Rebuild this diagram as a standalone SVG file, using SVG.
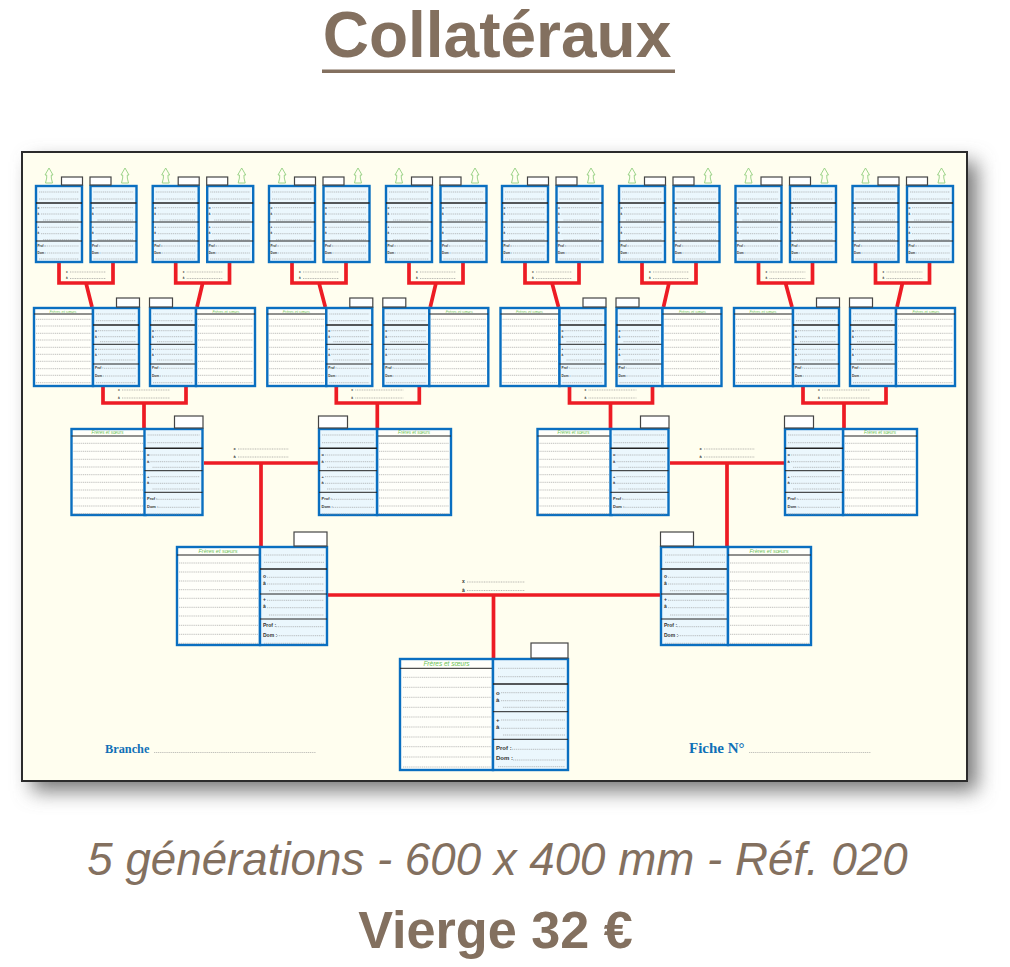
<svg xmlns="http://www.w3.org/2000/svg" width="1010" height="967" viewBox="0 0 1010 967">
<style>
.tt{font-family:"Liberation Sans",Arial,sans-serif;fill:#83705f}
.box{stroke:#0a6fc0;stroke-width:2.4}
.pf{fill:#ebf7fd}.sf{fill:#fffffa}
.d{fill:none;stroke:#999;stroke-width:.6;stroke-dasharray:1.2 .7}
.h{fill:none;stroke:#222;stroke-width:1}
.hb{fill:none;stroke:#222;stroke-width:1.6}
.tab{fill:#fff;stroke:#444;stroke-width:1.2}
.arr{fill:none;stroke:#93cf80;stroke-width:.9}
.red{fill:none;stroke:#ed1c24;stroke-width:3.7}
.l{font-family:"Liberation Sans",Arial,sans-serif;font-weight:bold;fill:#333}
.l5{font-size:3px}.l4{font-size:3.2px}.l3{font-size:4px}.l2{font-size:5px}.l1{font-size:6px}
.fs{font-family:"Liberation Sans",Arial,sans-serif;font-style:italic;fill:#6cbf55;text-anchor:middle}
.bl{font-family:"Liberation Serif",serif;font-weight:bold;fill:#0f70b7}
.cd{fill:none;stroke:#888;stroke-width:.6;stroke-dasharray:1 .7}
</style>
<defs>
<filter id="sh" x="-10%" y="-10%" width="120%" height="120%"><feGaussianBlur stdDeviation="10"/></filter>
<path id="arrow" class="arr" d="M0 -17L4 -10H2.300L2.300 -7L3.500 -2H-3.500L-2.300 -7V-10H-4Z"/>
<g id="p5"><rect class="box pf" x="1" y="1" width="46" height="76"/><path class="d" d="M4 7H44M4 14H44M6 22.700H44M6 29H44M8 35H44M6 42.300H44M6 48.700H44M8 54.700H44M10 61H44M12 68H44M4 74H44"/><path class="hb" d="M1 18H47"/><path class="h" d="M1 37H47M1 56H47"/></g>
<g id="p4"><rect class="box pf" x="1" y="1" width="46" height="78"/><path class="d" d="M4 7H44M4 13.700H44M6 23.700H44M6 29.700H44M8 34.700H44M6 42.300H44M6 47.300H44M8 53H44M12 61.300H44M13 69H44M4 75.700H44"/><path class="hb" d="M1 18H47"/><path class="h" d="M1 37.300H47M1 57H47"/></g>
<g id="s4"><rect class="box sf" x="1" y="1" width="59" height="78"/><path class="d" d="M3 12.300H58M3 19H58M3 26.300H58M3 33H58M3 40.300H58M3 47.300H58M3 54.300H58M3 61.700H58M3 68.300H58M3 75.700H58"/><path class="h" d="M1 7H60"/></g>
<g id="p3"><rect class="box pf" x="1" y="1" width="58" height="86"/><path class="d" d="M4 7H56M4 14.700H56M7 27H56M7 33.700H56M9 39.300H56M7 48.700H56M7 55.300H56M9 61H56M14 71.300H56M15 79.300H56M4 86H56"/><path class="hb" d="M1 20.300H59"/><path class="h" d="M1 42.700H59M1 64.300H59"/></g>
<g id="s3"><rect class="box sf" x="1" y="1" width="74" height="86"/><path class="d" d="M3 15.300H73M3 23.300H73M3 31.300H73M3 39H73M3 46.700H73M3 54.300H73M3 62H73M3 70H73M3 78H73M3 85.700H73"/><path class="h" d="M1 8H75"/></g>
<g id="p2"><rect class="box pf" x="1" y="1" width="67" height="98"/><path class="d" d="M5 9H65M5 16.300H65M8 31.300H65M8 38H65M10 44.700H65M8 54.300H65M8 61.700H65M10 69H65M17 80.700H65M18 89.700H65M5 97.300H65"/><path class="hb" d="M1 23H68"/><path class="h" d="M1 48H68M1 73H68"/></g>
<g id="s2"><rect class="box sf" x="1" y="1" width="83" height="98"/><path class="d" d="M3 17H82M3 26H82M3 35H82M3 43.700H82M3 52.300H82M3 61.300H82M3 70H82M3 79.300H82M3 88.300H82M3 97.300H82"/><path class="h" d="M1 9H84"/></g>
<g id="p1"><rect class="box pf" x="1" y="1" width="75" height="111"/><path class="d" d="M6 10.300H73M6 18.700H73M9 34.700H73M9 42.700H73M11 49.300H73M9 62H73M9 70.300H73M11 77H73M20 91.300H73M21 102H73M6 108.700H73"/><path class="hb" d="M1 26H76"/><path class="h" d="M1 53.700H76M1 81.300H76"/></g>
<g id="s1"><rect class="box sf" x="1" y="1" width="93" height="111"/><path class="d" d="M4 19.300H92M4 29.300H92M4 39.300H92M4 49.300H92M4 59H92M4 69H92M4 79H92M4 88.700H92M4 99H92M4 109H92"/><path class="h" d="M1 10.300H94"/></g>
</defs>
<rect width="1010" height="967" fill="#fff"/>
<text class="tt" x="497" y="57" font-size="64" font-weight="bold" text-anchor="middle">Collatéraux</text>
<rect x="322" y="69.500" width="353" height="3.500" fill="#83705f"/>
<rect x="32" y="162" width="945" height="629" fill="#777" filter="url(#sh)"/>
<rect x="22" y="152" width="945" height="629" fill="#fffeef" stroke="#2b2b2b" stroke-width="2"/>

<g id="connectors">
<path class="red" d="M59 263V283H113V263M86 283L92 307M175.700 263V283H229.500V263M202.700 283L197 307"/>
<path class="red" d="M292 263V283H346V263M319 283L325.300 307M409 263V283H463V263M436 283L430.300 307"/>
<path class="red" d="M525 263V283H579V263M552 283L558.500 307M642 263V283H696V263M669 283L663.500 307"/>
<path class="red" d="M758.500 263V283H812.500V263M785.500 283L792 307M875.500 263V283H929.500V263M902.500 283L897 307"/>
<path class="red" d="M103 387V403H186V387M144 403V428M336.300 387V403H419.300V387M377.300 403V428M569.500 387V403H652.500V387M610.500 403V428M803 387V403H886V387M844 403V428"/>
<path class="red" d="M204 463H318M261 463V546M670 463H785M727 463V546M328 595H660M493.500 595V658"/>
<path class="cd" d="M70 272H106M70 278.500H106M186.700 272H222.700M186.700 278.500H222.700M303 272H339M303 278.500H339M420 272H456M420 278.500H456M536 272H572M536 278.500H572M653 272H689M653 278.500H689M769.500 272H805.500M769.500 278.500H805.500M886.500 272H922.500M886.500 278.500H922.500"/>
<path class="cd" d="M122 390H170M122 398H170M355.300 390H403.300M355.300 398H403.300M588.500 390H636.500M588.500 398H636.500M822 390H870M822 398H870"/>
<path class="cd" d="M238 449H289M238 457H289M704 449H755M704 457H755M467 582H525M467 590.500H525"/>
<path class="d" d="M154 752.500H316M749 752.500H871"/>
<g class="l l5"><text x="66" y="272.500">x</text><text x="66" y="279">à</text><text x="182.700" y="272.500">x</text><text x="182.700" y="279">à</text><text x="299" y="272.500">x</text><text x="299" y="279">à</text><text x="416" y="272.500">x</text><text x="416" y="279">à</text><text x="532" y="272.500">x</text><text x="532" y="279">à</text><text x="649" y="272.500">x</text><text x="649" y="279">à</text><text x="765.500" y="272.500">x</text><text x="765.500" y="279">à</text><text x="882.500" y="272.500">x</text><text x="882.500" y="279">à</text></g>
<g class="l l4"><text x="118" y="391">x</text><text x="118" y="399">à</text><text x="351.300" y="391">x</text><text x="351.300" y="399">à</text><text x="584.500" y="391">x</text><text x="584.500" y="399">à</text><text x="818" y="391">x</text><text x="818" y="399">à</text></g>
<g class="l l3"><text x="233.500" y="450">x</text><text x="233.500" y="458">à</text><text x="699.500" y="450">x</text><text x="699.500" y="458">à</text></g>
<g class="l l2"><text x="462" y="583">x</text><text x="462" y="591.500">à</text></g>
</g>

<g id="g5-1" transform="translate(35 185)"><use href="#p5"/><rect class="tab" x="26.500" y="-8" width="21" height="8"/><use href="#arrow" x="14"/><g class="l l5"><text x="2.500" y="24">o</text><text x="2.500" y="30">à</text><text x="2.500" y="43">+</text><text x="2.500" y="49">à</text><text x="2.500" y="62">Prof :</text><text x="2.500" y="69">Dom :</text></g></g>
<g id="g5-2" transform="translate(89.500 185)"><use href="#p5"/><rect class="tab" x=".5" y="-8" width="21" height="8"/><use href="#arrow" x="35.500"/><g class="l l5"><text x="2.500" y="24">o</text><text x="2.500" y="30">à</text><text x="2.500" y="43">+</text><text x="2.500" y="49">à</text><text x="2.500" y="62">Prof :</text><text x="2.500" y="69">Dom :</text></g></g>
<g id="g5-3" transform="translate(151.700 185)"><use href="#p5"/><rect class="tab" x="26.500" y="-8" width="21" height="8"/><use href="#arrow" x="14"/><g class="l l5"><text x="2.500" y="24">o</text><text x="2.500" y="30">à</text><text x="2.500" y="43">+</text><text x="2.500" y="49">à</text><text x="2.500" y="62">Prof :</text><text x="2.500" y="69">Dom :</text></g></g>
<g id="g5-4" transform="translate(206.200 185)"><use href="#p5"/><rect class="tab" x=".5" y="-8" width="21" height="8"/><use href="#arrow" x="35.500"/><g class="l l5"><text x="2.500" y="24">o</text><text x="2.500" y="30">à</text><text x="2.500" y="43">+</text><text x="2.500" y="49">à</text><text x="2.500" y="62">Prof :</text><text x="2.500" y="69">Dom :</text></g></g>
<g id="g5-5" transform="translate(268 185)"><use href="#p5"/><rect class="tab" x="26.500" y="-8" width="21" height="8"/><use href="#arrow" x="14"/><g class="l l5"><text x="2.500" y="24">o</text><text x="2.500" y="30">à</text><text x="2.500" y="43">+</text><text x="2.500" y="49">à</text><text x="2.500" y="62">Prof :</text><text x="2.500" y="69">Dom :</text></g></g>
<g id="g5-6" transform="translate(322.500 185)"><use href="#p5"/><rect class="tab" x=".5" y="-8" width="21" height="8"/><use href="#arrow" x="35.500"/><g class="l l5"><text x="2.500" y="24">o</text><text x="2.500" y="30">à</text><text x="2.500" y="43">+</text><text x="2.500" y="49">à</text><text x="2.500" y="62">Prof :</text><text x="2.500" y="69">Dom :</text></g></g>
<g id="g5-7" transform="translate(385 185)"><use href="#p5"/><rect class="tab" x="26.500" y="-8" width="21" height="8"/><use href="#arrow" x="14"/><g class="l l5"><text x="2.500" y="24">o</text><text x="2.500" y="30">à</text><text x="2.500" y="43">+</text><text x="2.500" y="49">à</text><text x="2.500" y="62">Prof :</text><text x="2.500" y="69">Dom :</text></g></g>
<g id="g5-8" transform="translate(439.500 185)"><use href="#p5"/><rect class="tab" x=".5" y="-8" width="21" height="8"/><use href="#arrow" x="35.500"/><g class="l l5"><text x="2.500" y="24">o</text><text x="2.500" y="30">à</text><text x="2.500" y="43">+</text><text x="2.500" y="49">à</text><text x="2.500" y="62">Prof :</text><text x="2.500" y="69">Dom :</text></g></g>
<g id="g5-9" transform="translate(501 185)"><use href="#p5"/><rect class="tab" x="26.500" y="-8" width="21" height="8"/><use href="#arrow" x="14"/><g class="l l5"><text x="2.500" y="24">o</text><text x="2.500" y="30">à</text><text x="2.500" y="43">+</text><text x="2.500" y="49">à</text><text x="2.500" y="62">Prof :</text><text x="2.500" y="69">Dom :</text></g></g>
<g id="g5-10" transform="translate(555.500 185)"><use href="#p5"/><rect class="tab" x=".5" y="-8" width="21" height="8"/><use href="#arrow" x="35.500"/><g class="l l5"><text x="2.500" y="24">o</text><text x="2.500" y="30">à</text><text x="2.500" y="43">+</text><text x="2.500" y="49">à</text><text x="2.500" y="62">Prof :</text><text x="2.500" y="69">Dom :</text></g></g>
<g id="g5-11" transform="translate(618 185)"><use href="#p5"/><rect class="tab" x="26.500" y="-8" width="21" height="8"/><use href="#arrow" x="14"/><g class="l l5"><text x="2.500" y="24">o</text><text x="2.500" y="30">à</text><text x="2.500" y="43">+</text><text x="2.500" y="49">à</text><text x="2.500" y="62">Prof :</text><text x="2.500" y="69">Dom :</text></g></g>
<g id="g5-12" transform="translate(672.500 185)"><use href="#p5"/><rect class="tab" x=".5" y="-8" width="21" height="8"/><use href="#arrow" x="35.500"/><g class="l l5"><text x="2.500" y="24">o</text><text x="2.500" y="30">à</text><text x="2.500" y="43">+</text><text x="2.500" y="49">à</text><text x="2.500" y="62">Prof :</text><text x="2.500" y="69">Dom :</text></g></g>
<g id="g5-13" transform="translate(734.500 185)"><use href="#p5"/><rect class="tab" x="26.500" y="-8" width="21" height="8"/><use href="#arrow" x="14"/><g class="l l5"><text x="2.500" y="24">o</text><text x="2.500" y="30">à</text><text x="2.500" y="43">+</text><text x="2.500" y="49">à</text><text x="2.500" y="62">Prof :</text><text x="2.500" y="69">Dom :</text></g></g>
<g id="g5-14" transform="translate(789 185)"><use href="#p5"/><rect class="tab" x=".5" y="-8" width="21" height="8"/><use href="#arrow" x="35.500"/><g class="l l5"><text x="2.500" y="24">o</text><text x="2.500" y="30">à</text><text x="2.500" y="43">+</text><text x="2.500" y="49">à</text><text x="2.500" y="62">Prof :</text><text x="2.500" y="69">Dom :</text></g></g>
<g id="g5-15" transform="translate(851.500 185)"><use href="#p5"/><rect class="tab" x="26.500" y="-8" width="21" height="8"/><use href="#arrow" x="14"/><g class="l l5"><text x="2.500" y="24">o</text><text x="2.500" y="30">à</text><text x="2.500" y="43">+</text><text x="2.500" y="49">à</text><text x="2.500" y="62">Prof :</text><text x="2.500" y="69">Dom :</text></g></g>
<g id="g5-16" transform="translate(906 185)"><use href="#p5"/><rect class="tab" x=".5" y="-8" width="21" height="8"/><use href="#arrow" x="35.500"/><g class="l l5"><text x="2.500" y="24">o</text><text x="2.500" y="30">à</text><text x="2.500" y="43">+</text><text x="2.500" y="49">à</text><text x="2.500" y="62">Prof :</text><text x="2.500" y="69">Dom :</text></g></g>

<g id="g4-1" transform="translate(92 307)"><use href="#s4" x="-59"/><use href="#p4"/><rect class="tab" x="24.500" y="-9" width="23" height="9"/><text class="fs" x="-29" y="5.500" font-size="3.800">Frères et sœurs</text><g class="l l4"><text x="3" y="24.500">o</text><text x="3" y="30.500">à</text><text x="3" y="43">+</text><text x="3" y="48.500">à</text><text x="3" y="62">Prof :</text><text x="3" y="70">Dom :</text></g></g>
<g id="g4-2" transform="translate(149 307)"><use href="#p4"/><use href="#s4" x="46"/><rect class="tab" x=".5" y="-9" width="23" height="9"/><text class="fs" x="77" y="5.500" font-size="3.800">Frères et sœurs</text><g class="l l4"><text x="3" y="24.500">o</text><text x="3" y="30.500">à</text><text x="3" y="43">+</text><text x="3" y="48.500">à</text><text x="3" y="62">Prof :</text><text x="3" y="70">Dom :</text></g></g>
<g id="g4-3" transform="translate(325.300 307)"><use href="#s4" x="-59"/><use href="#p4"/><rect class="tab" x="24.500" y="-9" width="23" height="9"/><text class="fs" x="-29" y="5.500" font-size="3.800">Frères et sœurs</text><g class="l l4"><text x="3" y="24.500">o</text><text x="3" y="30.500">à</text><text x="3" y="43">+</text><text x="3" y="48.500">à</text><text x="3" y="62">Prof :</text><text x="3" y="70">Dom :</text></g></g>
<g id="g4-4" transform="translate(382.300 307)"><use href="#p4"/><use href="#s4" x="46"/><rect class="tab" x=".5" y="-9" width="23" height="9"/><text class="fs" x="77" y="5.500" font-size="3.800">Frères et sœurs</text><g class="l l4"><text x="3" y="24.500">o</text><text x="3" y="30.500">à</text><text x="3" y="43">+</text><text x="3" y="48.500">à</text><text x="3" y="62">Prof :</text><text x="3" y="70">Dom :</text></g></g>
<g id="g4-5" transform="translate(558.500 307)"><use href="#s4" x="-59"/><use href="#p4"/><rect class="tab" x="24.500" y="-9" width="23" height="9"/><text class="fs" x="-29" y="5.500" font-size="3.800">Frères et sœurs</text><g class="l l4"><text x="3" y="24.500">o</text><text x="3" y="30.500">à</text><text x="3" y="43">+</text><text x="3" y="48.500">à</text><text x="3" y="62">Prof :</text><text x="3" y="70">Dom :</text></g></g>
<g id="g4-6" transform="translate(615.500 307)"><use href="#p4"/><use href="#s4" x="46"/><rect class="tab" x=".5" y="-9" width="23" height="9"/><text class="fs" x="77" y="5.500" font-size="3.800">Frères et sœurs</text><g class="l l4"><text x="3" y="24.500">o</text><text x="3" y="30.500">à</text><text x="3" y="43">+</text><text x="3" y="48.500">à</text><text x="3" y="62">Prof :</text><text x="3" y="70">Dom :</text></g></g>
<g id="g4-7" transform="translate(792 307)"><use href="#s4" x="-59"/><use href="#p4"/><rect class="tab" x="24.500" y="-9" width="23" height="9"/><text class="fs" x="-29" y="5.500" font-size="3.800">Frères et sœurs</text><g class="l l4"><text x="3" y="24.500">o</text><text x="3" y="30.500">à</text><text x="3" y="43">+</text><text x="3" y="48.500">à</text><text x="3" y="62">Prof :</text><text x="3" y="70">Dom :</text></g></g>
<g id="g4-8" transform="translate(849 307)"><use href="#p4"/><use href="#s4" x="46"/><rect class="tab" x=".5" y="-9" width="23" height="9"/><text class="fs" x="77" y="5.500" font-size="3.800">Frères et sœurs</text><g class="l l4"><text x="3" y="24.500">o</text><text x="3" y="30.500">à</text><text x="3" y="43">+</text><text x="3" y="48.500">à</text><text x="3" y="62">Prof :</text><text x="3" y="70">Dom :</text></g></g>

<g id="g3-1" transform="translate(143.500 428)"><use href="#s3" x="-73"/><use href="#p3"/><rect class="tab" x="31" y="-12" width="28.500" height="12"/><text class="fs" x="-36" y="6" font-size="4.500">Frères et sœurs</text><g class="l l3"><text x="3.500" y="28">o</text><text x="3.500" y="34.500">à</text><text x="3.500" y="49.500">+</text><text x="3.500" y="56">à</text><text x="3.500" y="72">Prof :</text><text x="3.500" y="80">Dom :</text></g></g>
<g id="g3-2" transform="translate(318 428)"><use href="#s3" x="58"/><use href="#p3"/><rect class="tab" x=".5" y="-12" width="29" height="12"/><text class="fs" x="96" y="6" font-size="4.500">Frères et sœurs</text><g class="l l3"><text x="3.500" y="28">o</text><text x="3.500" y="34.500">à</text><text x="3.500" y="49.500">+</text><text x="3.500" y="56">à</text><text x="3.500" y="72">Prof :</text><text x="3.500" y="80">Dom :</text></g></g>
<g id="g3-3" transform="translate(609.500 428)"><use href="#s3" x="-73"/><use href="#p3"/><rect class="tab" x="31" y="-12" width="28.500" height="12"/><text class="fs" x="-36" y="6" font-size="4.500">Frères et sœurs</text><g class="l l3"><text x="3.500" y="28">o</text><text x="3.500" y="34.500">à</text><text x="3.500" y="49.500">+</text><text x="3.500" y="56">à</text><text x="3.500" y="72">Prof :</text><text x="3.500" y="80">Dom :</text></g></g>
<g id="g3-4" transform="translate(784 428)"><use href="#s3" x="58"/><use href="#p3"/><rect class="tab" x=".5" y="-12" width="29" height="12"/><text class="fs" x="96" y="6" font-size="4.500">Frères et sœurs</text><g class="l l3"><text x="3.500" y="28">o</text><text x="3.500" y="34.500">à</text><text x="3.500" y="49.500">+</text><text x="3.500" y="56">à</text><text x="3.500" y="72">Prof :</text><text x="3.500" y="80">Dom :</text></g></g>

<g id="g2-1" transform="translate(259 546)"><use href="#s2" x="-83"/><use href="#p2"/><rect class="tab" x="35" y="-14" width="33" height="14"/><text class="fs" x="-41" y="6.800" font-size="5.500">Frères et sœurs</text><g class="l l2"><text x="4" y="32">o</text><text x="4" y="39">à</text><text x="4" y="55">+</text><text x="4" y="62">à</text><text x="4" y="81">Prof :</text><text x="4" y="91">Dom :</text></g></g>
<g id="g2-2" transform="translate(660 546)"><use href="#p2"/><use href="#s2" x="67"/><rect class="tab" x=".5" y="-14" width="33" height="14"/><text class="fs" x="109" y="6.800" font-size="5.500">Frères et sœurs</text><g class="l l2"><text x="4" y="32">o</text><text x="4" y="39">à</text><text x="4" y="55">+</text><text x="4" y="62">à</text><text x="4" y="81">Prof :</text><text x="4" y="91">Dom :</text></g></g>

<g id="g1" transform="translate(492 658)"><use href="#s1" x="-93"/><use href="#p1"/><rect class="tab" x="39" y="-15" width="37" height="15"/><text class="fs" x="-45.500" y="8" font-size="6.500">Frères et sœurs</text><g class="l l1"><text x="4" y="37">o</text><text x="4" y="44">à</text><text x="4" y="64">+</text><text x="4" y="71">à</text><text x="4" y="92">Prof :</text><text x="4" y="102">Dom :</text></g></g>

<text class="bl" x="105" y="752.500" font-size="12.300">Branche</text>
<text class="bl" x="689" y="752.500" font-size="15">Fiche N°</text>
<text class="tt" x="497.500" y="875" font-size="45.700" font-style="italic" text-anchor="middle">5 générations - 600 x 400 mm - Réf. 020</text>
<text class="tt" x="495.500" y="948" font-size="52.200" font-weight="bold" text-anchor="middle">Vierge 32 €</text>
</svg>
